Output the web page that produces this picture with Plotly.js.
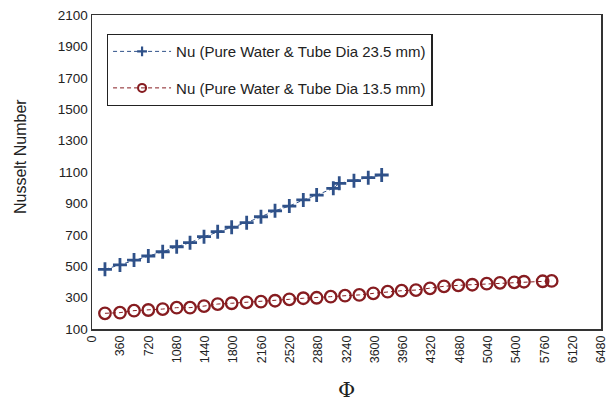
<!DOCTYPE html>
<html>
<head>
<meta charset="utf-8">
<script src="https://cdn.plot.ly/plotly-3.0.1.min.js"></script>
<style>
  html, body { margin: 0; padding: 0; background: #fff; }
  #chart { width: 614px; height: 410px; }
</style>
</head>
<body>
<div id="chart"></div>
<script>
// Nusselt number against the dimensionless parameter Φ for two tube diameters
const phiLarge = [165, 356, 535, 717, 900, 1078, 1248, 1426, 1600, 1778, 1969, 2151, 2330, 2512, 2690, 2860, 3072, 3148, 3335, 3517, 3688];
const nuLarge  = [480, 508, 539, 565, 592, 624, 650, 688, 720, 748, 777, 815, 853, 883, 922, 953, 996, 1028, 1045, 1064, 1081];

const phiSmall = [165, 356, 535, 717, 900, 1078, 1248, 1426, 1600, 1778, 1969, 2151, 2330, 2512, 2690, 2860, 3039, 3221, 3403, 3581, 3764, 3942, 4124, 4303, 4481, 4663, 4841, 5025, 5194, 5376, 5499, 5737, 5852];
const nuSmall  = [200, 204, 217, 221, 227, 236, 236, 246, 259, 264, 270, 274, 280, 289, 296, 299, 306, 312, 317, 327, 338, 344, 348, 359, 372, 378, 382, 389, 394, 397, 401, 404, 406];

const xTicks = [0, 360, 720, 1080, 1440, 1800, 2160, 2520, 2880, 3240, 3600, 3960, 4320, 4680, 5040, 5400, 5760, 6120, 6480];
const yTicks = [100, 300, 500, 700, 900, 1100, 1300, 1500, 1700, 1900, 2100];

const nameLarge = 'Nu (Pure Water & Tube Dia 23.5 mm)';
const nameSmall = 'Nu (Pure Water & Tube Dia 13.5 mm)';

const blue = '#2f5189';
const red = '#861c20';

const lineLarge = { color: blue, width: 1, dash: '4px,3px' };
const lineSmall = { color: red, width: 1, dash: '4px,3px' };

const traces = [
  {
    x: phiLarge, y: nuLarge, name: nameLarge, showlegend: false,
    type: 'scatter', mode: 'lines+markers', line: lineLarge,
    marker: { symbol: 'cross-thin-open', size: 10, color: blue, line: { color: blue, width: 2.8 } }
  },
  {
    x: phiSmall, y: nuSmall, name: nameSmall, showlegend: false,
    type: 'scatter', mode: 'lines+markers', line: lineSmall,
    marker: { symbol: 'circle-open', size: 11.5, color: red, line: { color: red, width: 2.3 } }
  },
  // legend entries with the smaller key symbols
  {
    x: [null], y: [null], name: nameLarge, legendgroup: 'g1',
    type: 'scatter', mode: 'lines+markers', line: lineLarge,
    marker: { symbol: 'cross-thin-open', size: 7, color: blue, line: { color: blue, width: 2.2 } }
  },
  {
    x: [null], y: [null], name: nameSmall, legendgroup: 'g2',
    type: 'scatter', mode: 'lines+markers', line: lineSmall,
    marker: { symbol: 'circle-open', size: 8, color: red, line: { color: red, width: 2 } }
  }
];

const layout = {
  width: 614, height: 410,
  margin: { l: 92, r: 13, t: 15, b: 81 },
  paper_bgcolor: '#fff', plot_bgcolor: '#fff',
  font: { family: '"Liberation Sans", Arial, sans-serif', color: '#222' },
  showlegend: true,
  legend: {
    x: 0.029, y: 0.94, xanchor: 'left', yanchor: 'top',
    bgcolor: '#fff', bordercolor: '#222', borderwidth: 1.3,
    font: { size: 15, color: '#222' },
    tracegroupgap: 14, itemwidth: 58
  },
  xaxis: {
    range: [0, 6480], tickvals: xTicks, ticktext: xTicks.map(String),
    tickangle: -90, tickfont: { size: 12.5, color: '#222' },
    showgrid: false, zeroline: false, ticks: '',
    showline: true, mirror: true, linecolor: '#333', linewidth: 1.5,
    title: { text: 'Φ', font: { size: 21, family: '"DejaVu Serif", serif', color: '#222' }, standoff: 20 }
  },
  yaxis: {
    range: [100, 2100], tickvals: yTicks, ticktext: yTicks.map(String),
    tickfont: { size: 13.5, color: '#222' },
    showgrid: false, zeroline: false, ticks: '',
    showline: true, mirror: true, linecolor: '#333', linewidth: 1.5
  },
  annotations: [{
    text: 'Nusselt Number', textangle: -90, showarrow: false,
    xref: 'paper', yref: 'paper', x: -0.14, y: 0.55, xanchor: 'center', yanchor: 'middle',
    font: { size: 16, color: '#222' }
  }]
};

Plotly.newPlot('chart', traces, layout, { displayModeBar: false, staticPlot: true });
</script>
</body>
</html>
